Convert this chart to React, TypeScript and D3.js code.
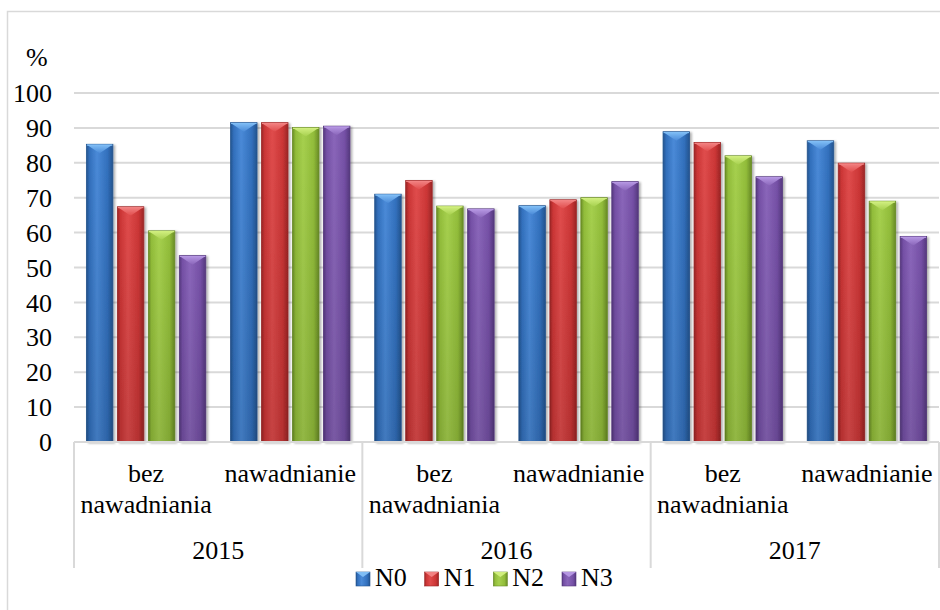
import { useEffect } from 'react';
import * as d3 from 'd3';

const years = ['2015', '2016', '2017'];
const treatments = ['bez nawadniania', 'nawadnianie'];
const series = ['N0', 'N1', 'N2', 'N3'];
const yTicks = [0, 10, 20, 30, 40, 50, 60, 70, 80, 90, 100];

// values per series, order: 2015 bez, 2015 naw, 2016 bez, 2016 naw, 2017 bez, 2017 naw
const n0Values = [85.3, 91.5, 71.0, 67.7, 88.9, 86.3];
const n1Values = [67.4, 91.5, 74.9, 69.4, 85.8, 79.9];
const n2Values = [60.5, 90.1, 67.6, 70.0, 82.0, 69.0];
const n3Values = [53.4, 90.5, 66.8, 74.6, 76.0, 58.9];

const seriesValues = [n0Values, n1Values, n2Values, n3Values];

const palette = [
  { dark: '#24548f', mid: '#3270bd', light: '#4a8ad8', cap: '#7fbdf5' },
  { dark: '#9c2626', mid: '#cc3636', light: '#e04c4c', cap: '#f28282' },
  { dark: '#698c26', mid: '#92bd3a', light: '#a6d04e', cap: '#d0ee7e' },
  { dark: '#55387e', mid: '#7550a6', light: '#8a66ba', cap: '#b596e2' },
];

const FONT = "'Liberation Serif'";

const left = 74;
const right = 939;
const top = 93;
const bottom = 442;

export default function App() {
  useEffect(() => {
    document.body.style.margin = '0';
  }, []);

  const yScale = d3.scaleLinear().domain([0, 100]).range([bottom, top]);
  const xYear = d3.scaleBand<string>().domain(years).range([left, right]);
  const xTreat = d3.scaleBand<string>().domain(treatments).range([0, xYear.bandwidth()]);
  const xSeries = d3.scaleBand<string>().domain(series).range([0, xTreat.bandwidth()])
    .paddingInner(0.145).paddingOuter(0.4);
  const legendX = d3.scalePoint<string>().domain(series).range([356, 562]);

  const cells = years.flatMap(y => treatments.map(t => ({ year: y, treat: t })));
  const w = xSeries.bandwidth();
  const seps = [...years.map(y => xYear(y)!), right];

  return (
    <svg width={940} height={610} style={{ display: 'block', background: '#fff' }}>
      <defs>
        {palette.map((c, i) => (
          <linearGradient key={`b${i}`} id={`body${i}`} x1={0} x2={1} y1={0} y2={0}>
            <stop offset="0%" stopColor={c.dark} />
            <stop offset="12%" stopColor={c.mid} />
            <stop offset="40%" stopColor={c.light} />
            <stop offset="80%" stopColor={c.mid} />
            <stop offset="100%" stopColor={c.dark} />
          </linearGradient>
        ))}
        {palette.map((c, i) => (
          <linearGradient key={`c${i}`} id={`cap${i}`} x1={0} x2={0} y1={0} y2={1}>
            <stop offset="0%" stopColor={c.cap} />
            <stop offset="100%" stopColor={c.light} />
          </linearGradient>
        ))}
        <linearGradient id="shade" x1={0} x2={0} y1={0} y2={1}>
          <stop offset="0%" stopColor="#000" stopOpacity={0} />
          <stop offset="100%" stopColor="#000" stopOpacity={0.12} />
        </linearGradient>
        <filter id="shadow" x="-20%" y="-5%" width="150%" height="115%">
          <feDropShadow dx={2} dy={1} stdDeviation={1.2} floodColor="#000" floodOpacity={0.3} />
        </filter>
      </defs>

      <path d="M7.5,610 V11.5 H940" fill="none" stroke="#d9d9d9" strokeWidth={1.5} />

      {yTicks.filter(t => t > 0).map(t => (
        <line key={t} x1={left} x2={right} y1={yScale(t)} y2={yScale(t)} stroke="#d9d9d9" strokeWidth={2} />
      ))}

      <g style={{ fontFamily: FONT, fontSize: 26 }} fill="#000">
        {yTicks.map(t => (
          <text key={t} x={52} y={yScale(t)} dy="0.35em" textAnchor="end">{t}</text>
        ))}
        <text x={26} y={57} dy="0.35em">%</text>
      </g>

      <g>
        {series.map((s, si) =>
          cells.map((c, ci) => {
            const v = seriesValues[si][ci];
            const x = xYear(c.year)! + xTreat(c.treat)! + xSeries(s)!;
            const y0 = yScale(v);
            const h = bottom - y0;
            return (
              <g key={`${s}-${ci}`} filter="url(#shadow)">
                <rect x={x} y={y0} width={w} height={h} fill={`url(#body${si})`} stroke={palette[si].dark} strokeWidth={0.8} />
                <rect x={x} y={y0} width={w} height={h} fill="url(#shade)" />
                <path d={`M${x + 0.5},${y0 + 0.5} L${x + w - 0.5},${y0 + 0.5} L${x + w / 2},${y0 + 9} Z`} fill={`url(#cap${si})`} />
                <line x1={x + 0.5} x2={x + w - 0.5} y1={y0 + 0.8} y2={y0 + 0.8} stroke={palette[si].cap} strokeWidth={1.2} />
              </g>
            );
          })
        )}
      </g>

      <g stroke="#d9d9d9" strokeWidth={2}>
        <line x1={left} x2={right} y1={bottom} y2={bottom} />
        {seps.map(d => (
          <line key={d} x1={d} x2={d} y1={bottom} y2={568} />
        ))}
      </g>

      <g style={{ fontFamily: FONT, fontSize: 26 }} fill="#000" textAnchor="middle">
        {years.map(y => (
          <g key={y}>
            {treatments.map(t => {
              const cx = xYear(y)! + xTreat(t)! + xTreat.bandwidth() / 2;
              const words = t === 'bez nawadniania' ? ['bez', 'nawadniania'] : [t];
              return words.map((wd, i) => (
                <text key={`${t}-${i}`} x={cx} y={482 + i * 31}>{wd}</text>
              ));
            })}
            <text x={xYear(y)! + xYear.bandwidth() / 2} y={559}>{y}</text>
          </g>
        ))}
      </g>

      <g>
        {series.map((s, si) => {
          const lx = legendX(s)!;
          return (
            <g key={s}>
              <rect x={lx} y={572} width={14} height={14} fill={`url(#body${si})`} stroke={palette[si].dark} strokeWidth={0.6} />
              <path d={`M${lx},572 L${lx + 14},572 L${lx + 7},577 Z`} fill={palette[si].cap} />
              <text x={lx + 19} y={586} style={{ fontFamily: FONT, fontSize: 26 }}>{s}</text>
            </g>
          );
        })}
      </g>
    </svg>
  );
}
